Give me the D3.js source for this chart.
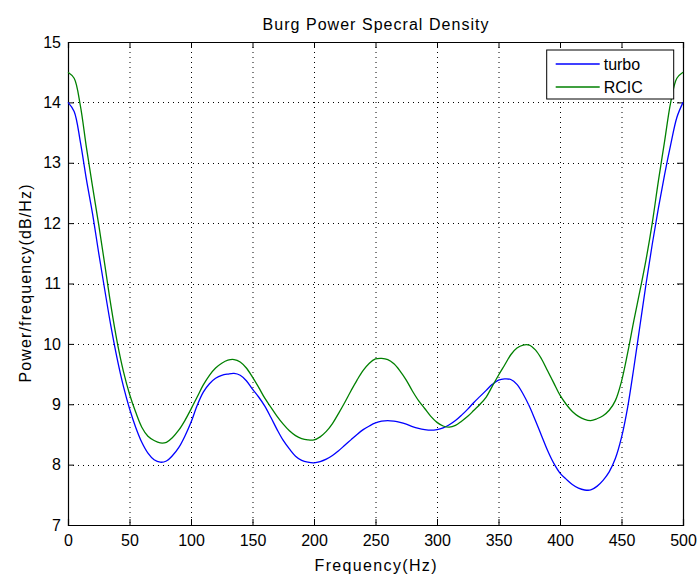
<!DOCTYPE html>
<html lang="en">
<head>
<meta charset="UTF-8">
<title>Burg Power Specral Density</title>
<script src="https://d3js.org/d3.v7.min.js"></script>
<style>
    body {
        margin: 0;
        padding: 0;
        background-color: #ffffff;
        font-family: Arial, 'Liberation Sans', sans-serif;
    }
    #chart svg {
        display: block;
    }
</style>
</head>
<body>
<div id="chart"></div>
<script>
    // frequency axis (Hz), sampled every 5 Hz
    const freqs = d3.range(0, 501, 5);

    const turbo = [
        14.00, 13.85, 13.35, 12.72, 12.15, 11.50, 10.88, 10.28, 9.75, 9.30,
        8.93, 8.62, 8.37, 8.19, 8.08, 8.04, 8.06, 8.15, 8.28, 8.47,
        8.70, 8.98, 9.20, 9.34, 9.43, 9.48, 9.50, 9.51, 9.48, 9.39,
        9.25, 9.12, 8.97, 8.78, 8.58, 8.40, 8.26, 8.14, 8.07, 8.04,
        8.03, 8.05, 8.09, 8.15, 8.23, 8.32, 8.41, 8.50, 8.58, 8.64,
        8.69, 8.72, 8.73, 8.72, 8.70, 8.67, 8.63, 8.60, 8.58, 8.57,
        8.58, 8.61, 8.66, 8.73, 8.82, 8.92, 9.03, 9.13, 9.23, 9.33,
        9.40, 9.42, 9.41, 9.33, 9.17, 8.97, 8.73, 8.48, 8.23, 8.02,
        7.86, 7.76, 7.67, 7.61, 7.58, 7.58, 7.64, 7.74, 7.88, 8.10,
        8.45, 8.95, 9.60, 10.30, 11.00, 11.65, 12.25, 12.80, 13.30, 13.75,
        14.00
    ];

    const rcic = [
        14.50, 14.40, 13.95, 13.25, 12.60, 11.97, 11.30, 10.62, 10.03, 9.55,
        9.17, 8.87, 8.62, 8.47, 8.40, 8.36, 8.37, 8.45, 8.57, 8.73,
        8.92, 9.12, 9.32, 9.48, 9.60, 9.68, 9.73, 9.74, 9.70, 9.60,
        9.45, 9.28, 9.10, 8.95, 8.80, 8.67, 8.56, 8.48, 8.43, 8.41,
        8.41, 8.46, 8.55, 8.68, 8.85, 9.03, 9.22, 9.40, 9.56, 9.68,
        9.75, 9.76, 9.74, 9.67, 9.55, 9.40, 9.22, 9.06, 8.93, 8.80,
        8.70, 8.64, 8.62, 8.65, 8.72, 8.80, 8.90, 9.00, 9.12, 9.30,
        9.48, 9.65, 9.82, 9.93, 9.98, 9.98, 9.90, 9.75, 9.55, 9.35,
        9.15, 9.00, 8.88, 8.80, 8.75, 8.73, 8.76, 8.81, 8.90, 9.06,
        9.38, 9.85, 10.38, 10.88, 11.40, 12.00, 12.70, 13.35, 14.00, 14.40,
        14.50
    ];

    const seriesNames = ["turbo", "RCIC"];
    const seriesColors = ["#0000ff", "#008000"];
    const xTicks = [0, 50, 100, 150, 200, 250, 300, 350, 400, 450, 500];
    const yTicks = [7, 8, 9, 10, 11, 12, 13, 14, 15];

    const width = 697, height = 576;
    const margin = { top: 42, right: 14, bottom: 51, left: 68 };
    const innerW = width - margin.left - margin.right;
    const innerH = height - margin.top - margin.bottom;

    const svg = d3.select("#chart").append("svg")
        .attr("width", width)
        .attr("height", height)
        .style("background", "#ffffff");

    const x = d3.scaleLinear().domain([0, 500]).range([0, innerW]);
    const y = d3.scaleLinear().domain([7, 15]).range([innerH, 0]);

    const g = svg.append("g")
        .attr("transform", `translate(${margin.left},${margin.top})`);

    // dotted grid
    g.append("g").selectAll("line")
        .data(xTicks.slice(1, -1))
        .enter().append("line")
        .attr("x1", d => x(d) + 0.5).attr("x2", d => x(d) + 0.5)
        .attr("y1", 0).attr("y2", innerH)
        .attr("stroke", "#000").attr("stroke-width", 1)
        .attr("stroke-dasharray", "1,4");
    g.append("g").selectAll("line")
        .data(yTicks.slice(1, -1))
        .enter().append("line")
        .attr("y1", d => Math.round(y(d)) + 0.5).attr("y2", d => Math.round(y(d)) + 0.5)
        .attr("x1", 0).attr("x2", innerW)
        .attr("stroke", "#000").attr("stroke-width", 1)
        .attr("stroke-dasharray", "1,4");

    // axes, ticks pointing inward on all four sides
    const tickLen = 6;
    const xAxisB = d3.axisBottom(x).tickValues(xTicks).tickSize(-tickLen).tickPadding(10).tickFormat(d3.format("d"));
    const xAxisT = d3.axisTop(x).tickValues(xTicks).tickSize(-tickLen).tickFormat("");
    const yAxisL = d3.axisLeft(y).tickValues(yTicks).tickSize(-tickLen).tickPadding(7).tickFormat(d3.format("d"));
    const yAxisR = d3.axisRight(y).tickValues(yTicks).tickSize(-tickLen).tickFormat("");

    const axes = [
        g.append("g").attr("transform", `translate(0,${innerH})`).call(xAxisB),
        g.append("g").call(xAxisT),
        g.append("g").call(yAxisL),
        g.append("g").attr("transform", `translate(${innerW},0)`).call(yAxisR)
    ];
    axes.forEach(a => {
        a.select(".domain").attr("stroke", "#000").attr("stroke-width", 1.2);
        a.selectAll(".tick line").attr("stroke", "#000");
        a.selectAll(".tick text")
            .attr("fill", "#000")
            .style("font-family", "Arial, 'Liberation Sans', sans-serif")
            .style("font-size", "16px");
    });

    // curves
    const line = d3.line()
        .x((d, i) => x(freqs[i]))
        .y(d => y(d))
        .curve(d3.curveCatmullRom.alpha(0.5));

    [turbo, rcic].forEach((vals, k) => {
        g.append("path")
            .datum(vals)
            .attr("fill", "none")
            .attr("stroke", seriesColors[k])
            .attr("stroke-width", 1.3)
            .attr("d", line);
    });

    // legend
    const leg = g.append("g").attr("transform", `translate(${x(390) - 1},${8})`);
    leg.append("rect")
        .attr("x", 0).attr("y", 0)
        .attr("width", 127).attr("height", 49)
        .attr("fill", "#fff")
        .attr("stroke", "#000").attr("stroke-width", 1);
    seriesNames.forEach((name, k) => {
        const ly = 14 + k * 23;
        leg.append("line")
            .attr("x1", 9).attr("x2", 53)
            .attr("y1", ly).attr("y2", ly)
            .attr("stroke", seriesColors[k]).attr("stroke-width", 1.3);
        leg.append("text")
            .attr("x", 57).attr("y", ly + 5.5)
            .style("font-size", "16px")
            .attr("fill", "#000")
            .text(name);
    });

    // title and axis labels
    svg.append("text")
        .attr("x", margin.left + innerW / 2).attr("y", 30)
        .attr("text-anchor", "middle")
        .style("font-size", "16px")
        .attr("textLength", 226).attr("lengthAdjust", "spacing")
        .text("Burg Power Specral Density");

    svg.append("text")
        .attr("x", margin.left + innerW / 2).attr("y", 571)
        .attr("text-anchor", "middle")
        .style("font-size", "16px")
        .attr("textLength", 122).attr("lengthAdjust", "spacing")
        .text("Frequency(Hz)");

    svg.append("text")
        .attr("transform", `translate(31,${margin.top + innerH / 2}) rotate(-90)`)
        .attr("text-anchor", "middle")
        .style("font-size", "16px")
        .attr("textLength", 198).attr("lengthAdjust", "spacing")
        .text("Power/frequency(dB/Hz)");
</script>
</body>
</html>
